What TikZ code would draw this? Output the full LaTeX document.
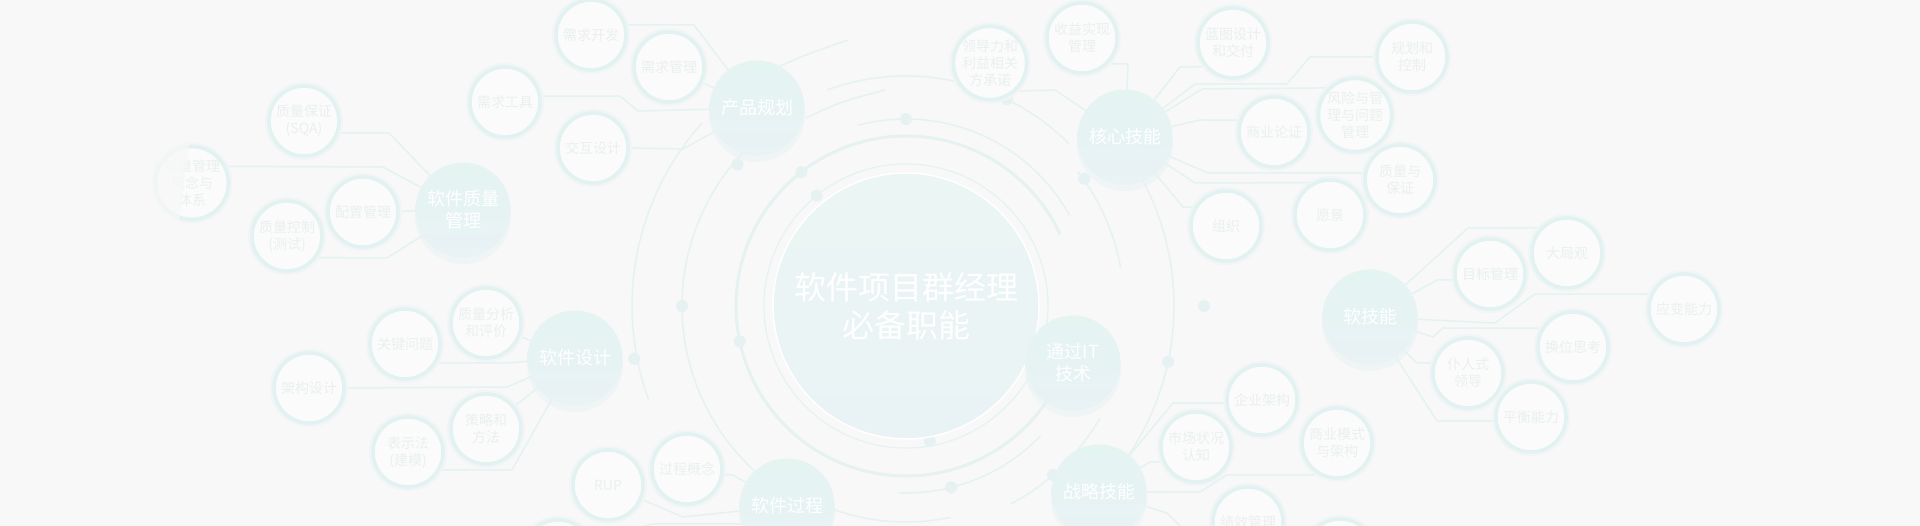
\documentclass[tikz,border=0pt]{standalone}
\usepackage{fontspec}
\setmainfont{Noto Sans CJK SC}
\usetikzlibrary{calc}
\pgfdeclarelayer{bgl}\pgfdeclarelayer{backl}\pgfdeclarelayer{frontl}
\pgfsetlayers{bgl,backl,main,frontl}
\definecolor{bgc}{HTML}{F8F8F8}
\definecolor{cstroke}{HTML}{E1F2F1}
\definecolor{ctext}{HTML}{EAF0EF}
\definecolor{cwire}{HTML}{E4F2F1}
\definecolor{hubtop}{HTML}{E4F4F1}
\definecolor{hubbot}{HTML}{E9F2F5}
\definecolor{hubsh}{HTML}{EEF5F4}
\definecolor{cenfill}{HTML}{EAF5F4}
\definecolor{deco}{HTML}{E6F2F1}
\definecolor{halo}{HTML}{F1F5F5}
\newcommand\myarc[6][]{\draw[ring,#1] plot[domain=#5:#6, samples=90, smooth] ({#2+#4*cos(\x)},{#3+#4*sin(\x)});}
\newcommand\mydot[4]{\fill[deco] ({#1+#3*cos(#4)},{#2+#3*sin(#4)}) circle (6);}
\tikzset{
 sub/.style={circle, draw=cstroke, line width=3.5pt, minimum size=70pt, inner sep=0pt, align=center, text=ctext, fill=bgc!50!white, font=\fontsize{14}{17}\selectfont, preaction={draw=halo, line width=8pt}},
 hub/.style={circle, minimum size=95pt, inner sep=0pt, align=center, text=white, top color=hubtop, bottom color=hubbot, font=\fontsize{18}{22}\selectfont},
 wire/.style={draw=cwire, line width=1.5pt, line join=round},
 ring/.style={draw=deco, line width=1.5pt},
}
\begin{document}
\begin{tikzpicture}[x=1pt,y=-1pt]
\useasboundingbox (0,0) rectangle (1920,526);
\clip (0,0) rectangle (1920,526);
\begin{pgfonlayer}{bgl}
\fill[bgc] (0,0) rectangle (1920,526);
\end{pgfonlayer}

% center
\node[circle, minimum size=266pt, inner sep=0pt, top color=cenfill, bottom color=hubbot!60!cenfill, draw=white, line width=1.5pt, text=white, font=\fontsize{32}{38}\selectfont, align=center] (C) at (906,306) {软件项目群经理\\必备职能};

% hubs
\node[hub] (P) at (757,108) {产品规划};
\node[hub] (Q) at (463,210) {软件质量\\管理};
\node[hub] (K) at (1125,137) {核心技能};
\node[hub] (D) at (575,358) {软件设计};
\node[hub] (IT) at (1073,363) {通过IT\\技术};
\node[hub] (S) at (1370,317) {软技能};
\node[hub] (T) at (1099,492) {战略技能};
\node[hub] (R) at (787,506) {软件过程};

% small circles
\node[sub] (n1) at (304,121) {质量保证\\(SQA)};
\node[sub] (n2) at (192,183) {质量管理\\概念与\\体系};
\node[sub] (n3) at (363,212) {配置管理};
\node[sub] (n4) at (287,236) {质量控制\\(测试)};
\node[sub] (n7) at (505,102) {需求工具};
\node[sub] (n5) at (591,35) {需求开发};
\node[sub] (n6) at (669,67) {需求管理};
\node[sub] (n8) at (593,148) {交互设计};
\node[sub] (n9) at (990,63) {领导力和\\利益相关\\方承诺};
\node[sub] (n10) at (1082,38) {收益实现\\管理};
\node[sub] (n11) at (1233,43) {蓝图设计\\和交付};
\node[sub] (n12) at (1412,57) {规划和\\控制};
\node[sub] (n13) at (1355,115) {风险与管\\理与问题\\管理};
\node[sub] (n14) at (1274,132) {商业论证};
\node[sub] (n15) at (1400,180) {质量与\\保证};
\node[sub] (n16) at (1330,215) {愿景};
\node[sub] (n17) at (1226,226) {组织};
\node[sub] (n18) at (1567,253) {大局观};
\node[sub] (n19) at (1490,274) {目标管理};
\node[sub] (n20) at (1684,309) {应变能力};
\node[sub] (n21) at (1573,347) {换位思考};
\node[sub] (n22) at (1468,373) {仆人式\\领导};
\node[sub] (n23) at (1531,417) {平衡能力};
\node[sub] (n24) at (1262,400) {企业架构};
\node[sub] (n25) at (1196,447) {市场状况\\认知};
\node[sub] (n26) at (1337,443) {商业模式\\与架构};
\node[sub] (n27) at (1248,522) {绩效管理};
\node[sub] (n36) at (1340,554) {};
\node[sub] (n28) at (486,323) {质量分析\\和评价};
\node[sub] (n29) at (405,344) {关键问题};
\node[sub] (n30) at (309,388) {架构设计};
\node[sub] (n31) at (486,429) {策略和\\方法};
\node[sub] (n32) at (408,452) {表示法\\(建模)};
\node[sub] (n34) at (608,485) {RUP};
\node[sub] (n33) at (687,469) {过程概念};
\node[sub] (n35) at (558,555) {};
\coordinate (endT) at (1186,532);

\begin{pgfonlayer}{backl}
% hub shadows
\foreach \h in {P,Q,K,D,IT,S,T,R}{\fill[hubsh] ($(\h)+(0,6)$) circle (48);}
% decorative rings
\draw[deco, line width=1.2pt] (906,306) circle (142);
\myarc[line width=3pt]{906}{306}{170}{8}{335}
\myarc{906}{306}{187}{44}{92}
\myarc{906}{306}{187}{255}{331}
\myarc{906}{306}{218}{-38}{-10}
\myarc{906}{306}{216}{78}{112}
\myarc{906}{306}{224}{30}{62}
\myarc{906}{306}{224}{130}{230}
\myarc{906}{306}{230}{250}{315}
\myarc{906}{306}{268}{-37}{35}
\myarc{906}{306}{274}{160}{222}
\draw[ring] (780,66) .. controls (805,55) .. (848,40);
\draw[ring] (806,118) .. controls (840,102) .. (885,90);
\mydot{906}{306}{142}{231}
\mydot{906}{306}{137}{80}
\mydot{906}{306}{170}{232}
\mydot{906}{306}{170}{168}
\mydot{906}{306}{170}{8}
\mydot{906}{306}{187}{270}
\mydot{906}{306}{187}{76}
\mydot{906}{306}{219}{-35.5}
\mydot{906}{306}{224}{49}
\mydot{906}{306}{224}{180}
\mydot{906}{306}{220}{220}
\mydot{906}{306}{230}{296}
\mydot{906}{306}{268}{12}
\mydot{906}{306}{298}{0}
\mydot{906}{306}{277}{169}
% connectors: quality
\draw[wire] (n1.-19) -- (389,133) -- (Q);
\draw[wire] (n2.26) -- (383,167) -- (Q);
\draw[wire] (n3) -- (Q);
\draw[wire] (n4.-36) -- (387,258) -- (Q);
% product
\draw[wire] (n5.16) -- (694,25) -- (P);
\draw[wire] (n6) -- (P);
\draw[wire] (n7.9) -- (620,96) -- (638,111) -- (P);
\draw[wire] (n8.east) -- (683,149) -- (P);
% core
\draw[wire] (n9.-47) -- (1055,90) -- (K);
\draw[wire] (n10.-45) -- (1128,64) -- (K);
\draw[wire] (n11.220) -- (1180,67) -- (K);
\draw[wire] (n12.west) -- (1310,57) -- (1287,84) -- (1195,84) -- (K);
\draw[wire] (n13.135) -- (1202,89) -- (K);
\draw[wire] (n14.161) -- (1200,120) -- (K);
\draw[wire] (n15.169) -- (1208,173) -- (K);
\draw[wire] (n16.118) -- (1195,183) -- (K);
\draw[wire] (n17.149) -- (1183,207) -- (K);
% soft
\draw[wire] (n18.137) -- (1468,228) -- (S);
\draw[wire] (n19.189) -- (1437,280) -- (S);
\draw[wire] (n20.156) -- (1535,294) -- (1495,323) -- (S);
\draw[wire] (n21.149) -- (1443,328) -- (1433,337) -- (S);
\draw[wire] (n22.164) -- (1417,363) -- (S);
\draw[wire] (n23.186) -- (1437,421) -- (S);
% strategy
\draw[wire] (n24.185) -- (1173,403) -- (T);
\draw[wire] (n25.204) -- (1150,462) -- (T);
\draw[wire] (n26.240) -- (1227,475) -- (1200,492) -- (T);
\draw[wire] (T) -- (1167,513) -- (endT);
% design
\draw[wire] (n28) -- (D);
\draw[wire] (n29.-31) -- (505,363) -- (D);
\draw[wire] (n30.east) -- (507,387) -- (D);
\draw[wire] (n31) -- (D);
\draw[wire] (n32.-29) -- (512,470) -- (D);
% process
\draw[wire] (n33.-9) -- (733,475) -- (R);
\draw[wire] (n34) -- (683,517) -- (R);
\draw[wire] (n35.25) -- (653,524) -- (R.202);
\end{pgfonlayer}

\begin{pgfonlayer}{frontl}
\fill[bgc, opacity=0.7] (0,0) -- (207,0) .. controls (190,150) and (172,250) .. (174,300) .. controls (176,400) and (180,470) .. (182,526) -- (0,526) -- cycle;
\fill[bgc, opacity=0.5] (1920,0) -- (1745,0) .. controls (1728,10) and (1726,60) .. (1727,120) .. controls (1729,300) and (1730,400) .. (1732,450) .. controls (1734,495) and (1742,515) .. (1752,526) -- (1920,526) -- cycle;
\end{pgfonlayer}
\end{tikzpicture}
\end{document}
